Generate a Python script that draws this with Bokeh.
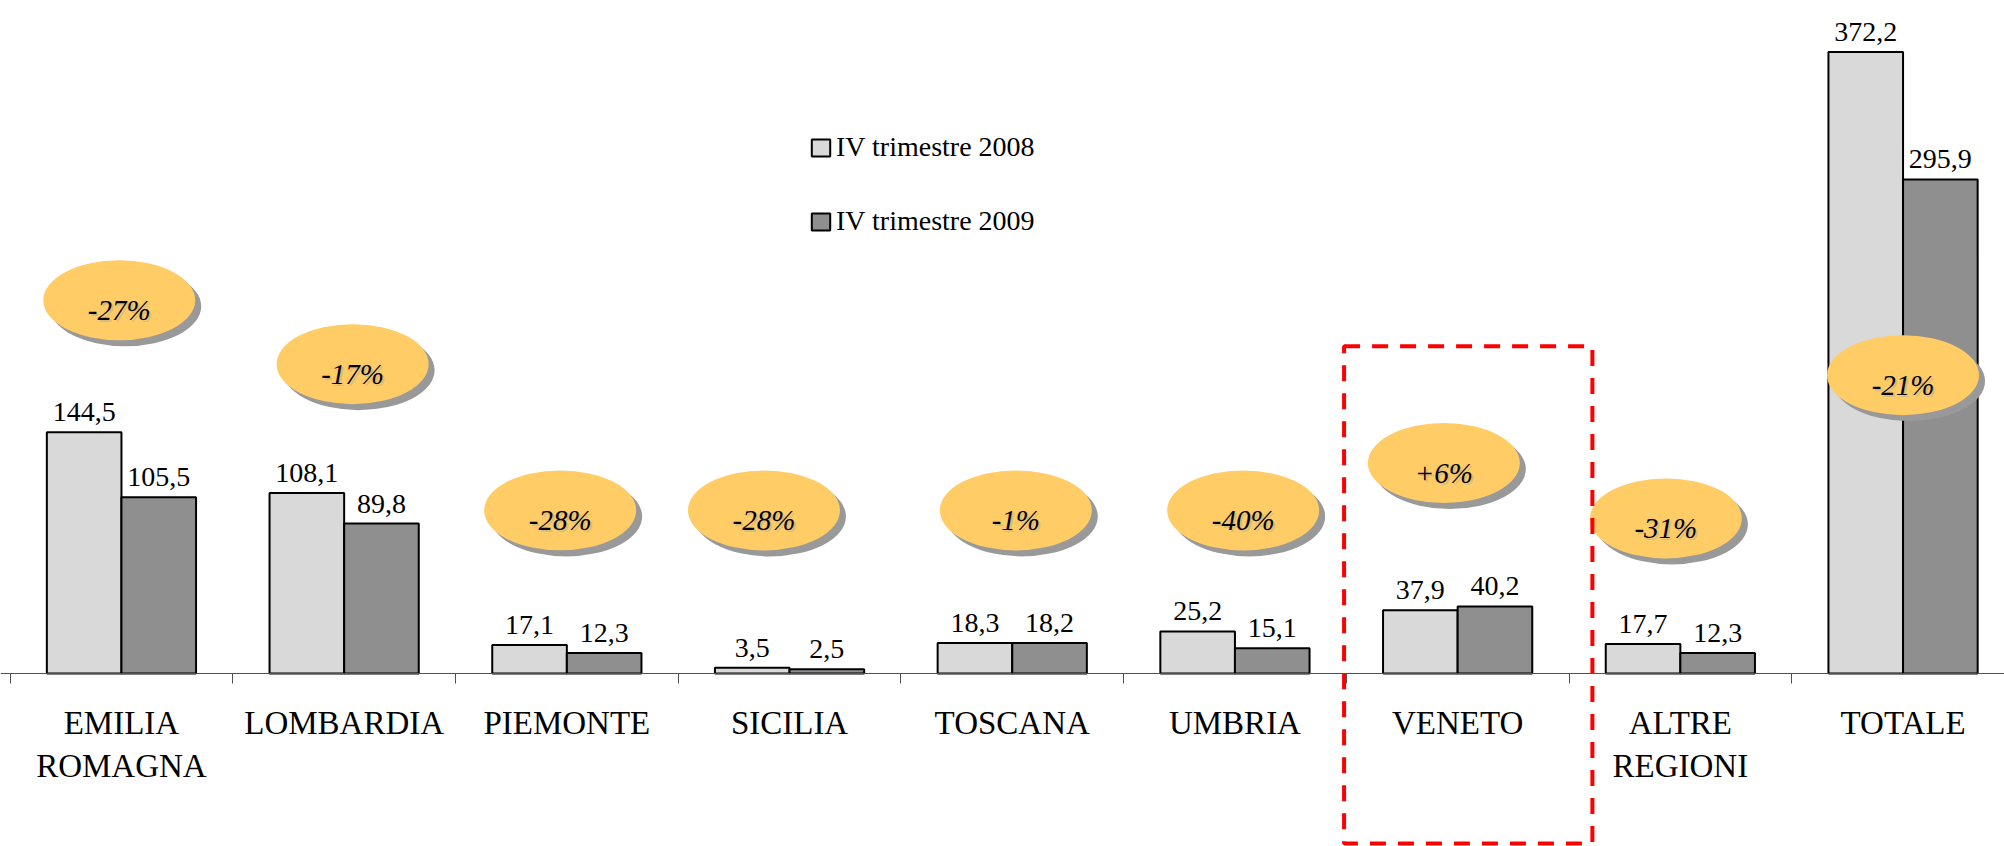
import numpy as np
from bokeh.plotting import figure
from bokeh.models import Range1d, FixedTicker, LinearAxis, Legend, LegendItem, ColumnDataSource
from bokeh.core.properties import value
from bokeh.embed import file_html
from bokeh.resources import INLINE

# ---------------- data ----------------
categories = ["EMILIA\nROMAGNA", "LOMBARDIA", "PIEMONTE", "SICILIA", "TOSCANA",
              "UMBRIA", "VENETO", "ALTRE\nREGIONI", "TOTALE"]
q4_2008 = [144.5, 108.1, 17.1, 3.5, 18.3, 25.2, 37.9, 17.7, 372.2]
q4_2009 = [105.5, 89.8, 12.3, 2.5, 18.2, 15.1, 40.2, 12.3, 295.9]
pct_labels = ["-27%", "-17%", "-28%", "-28%", "-1%", "-40%", "+6%", "-31%", "-21%"]
series_names = ["IV trimestre 2008", "IV trimestre 2009"]
highlight = "VENETO"

# placement of the percentage bubbles (offset from category centre, height in data units)
bubble_dx = [-0.01, 0.038, -0.03, -0.115, 0.016, 0.037, -0.062, -0.065, 0.0]
bubble_y = [223.6, 185.3, 97.7, 97.7, 97.7, 97.7, 126.1, 92.9, 178.7]

# ---------------- layout ----------------
FONT = "Liberation Serif"
W, H = 2004, 846
px_x = 222.7          # pixels per category
px_y = 1.6695         # pixels per unit
x0 = -9.6 / px_x
x1 = x0 + W / px_x
y1 = 673 / px_y
y0 = y1 - H / px_y

n = len(categories)
centers = np.arange(n) + 0.5
bw = 0.335
fmt = lambda v: f"{v:.1f}".replace(".", ",")

p = figure(width=W, height=H, x_range=Range1d(x0, x1), y_range=Range1d(y0, y1),
           output_backend="svg", toolbar_location=None,
           x_axis_location=None, y_axis_location=None, min_border=0)
p.outline_line_color = None
p.xgrid.visible = False
p.ygrid.visible = False
p.background_fill_color = "white"

src = ColumnDataSource(dict(
    x08=centers - bw / 2, x09=centers + bw / 2,
    v08=q4_2008, v09=q4_2009,
    t08=[fmt(v) for v in q4_2008], t09=[fmt(v) for v in q4_2009],
))

r08 = p.vbar(x="x08", top="v08", bottom=0, width=bw, source=src,
             fill_color="#D9D9D9", line_color="black", line_width=2)
r09 = p.vbar(x="x09", top="v09", bottom=0, width=bw, source=src,
             fill_color="#8F8F8F", line_color="black", line_width=2)

# value labels
for xc, tc, vc in (("x08", "t08", "v08"), ("x09", "t09", "v09")):
    p.text(x=xc, y=vc, text=tc, source=src, y_offset=-20,
           text_align="center", text_baseline="alphabetic",
           text_font=value(FONT), text_font_size="28px", text_color="black")

# axes (fixed at zero)
ax_ticks = LinearAxis(ticker=FixedTicker(ticks=list(range(n + 1))), fixed_location=0,
                      major_tick_out=10, major_tick_in=0,
                      major_label_overrides={i: "" for i in range(n + 1)},
                      axis_line_color="#505050", major_tick_line_color="#505050",
                      minor_tick_line_color=None)
p.add_layout(ax_ticks, "below")
ax_labels = LinearAxis(ticker=FixedTicker(ticks=list(centers)), fixed_location=0,
                       major_tick_out=0, major_tick_in=0, major_label_standoff=31,
                       major_label_overrides={float(c): lab for c, lab in zip(centers, categories)},
                       axis_line_color=None, major_tick_line_color=None,
                       minor_tick_line_color=None,
                       major_label_text_font=FONT, major_label_text_font_size="33px",
                       major_label_text_color="black")
p.add_layout(ax_labels, "below")

# percentage bubbles
bx = centers + np.array(bubble_dx)
by = np.array(bubble_y)
bsrc = ColumnDataSource(dict(x=bx, y=by, sx=bx + 6 / px_x, sy=by - 6 / px_y,
                             tx=bx, ty=by, lab=pct_labels))
p.ellipse(x="sx", y="sy", width=152, height=80, width_units="screen", height_units="screen",
          source=bsrc, fill_color="#999999", line_color=None)
p.ellipse(x="x", y="y", width=152, height=80, width_units="screen", height_units="screen",
          source=bsrc, fill_color="#FFCC66", line_color=None)
p.text(x="tx", y="ty", text="lab", source=bsrc, x_offset=2, y_offset=12,
       text_align="center", text_baseline="alphabetic", text_font=value(FONT),
       text_font_style="italic", text_font_size="29px", text_color="#C9B48A", text_alpha=0.7)
p.text(x="tx", y="ty", text="lab", source=bsrc, x_offset=0, y_offset=10,
       text_align="center", text_baseline="alphabetic", text_font=value(FONT),
       text_font_style="italic", text_font_size="29px", text_color="black")

# highlight box around VENETO
hi = categories.index(highlight)
p.quad(left=[hi - 0.01], right=[hi + 1.105], top=[196], bottom=[(673 - 843) / px_y],
       fill_color=None, line_color="#FF0000", line_width=4, line_dash="16 12")

# legend
legend = Legend(items=[LegendItem(label=series_names[0], renderers=[r08]),
                       LegendItem(label=series_names[1], renderers=[r09])],
                location=(809, 609), orientation="vertical",
                glyph_width=23, glyph_height=21, label_standoff=4, spacing=42,
                padding=0, margin=0, border_line_color=None, background_fill_alpha=0,
                label_text_font=FONT, label_text_font_size="28px", label_text_color="black")
p.add_layout(legend)

open("out.html", "w").write(file_html(p, INLINE))
